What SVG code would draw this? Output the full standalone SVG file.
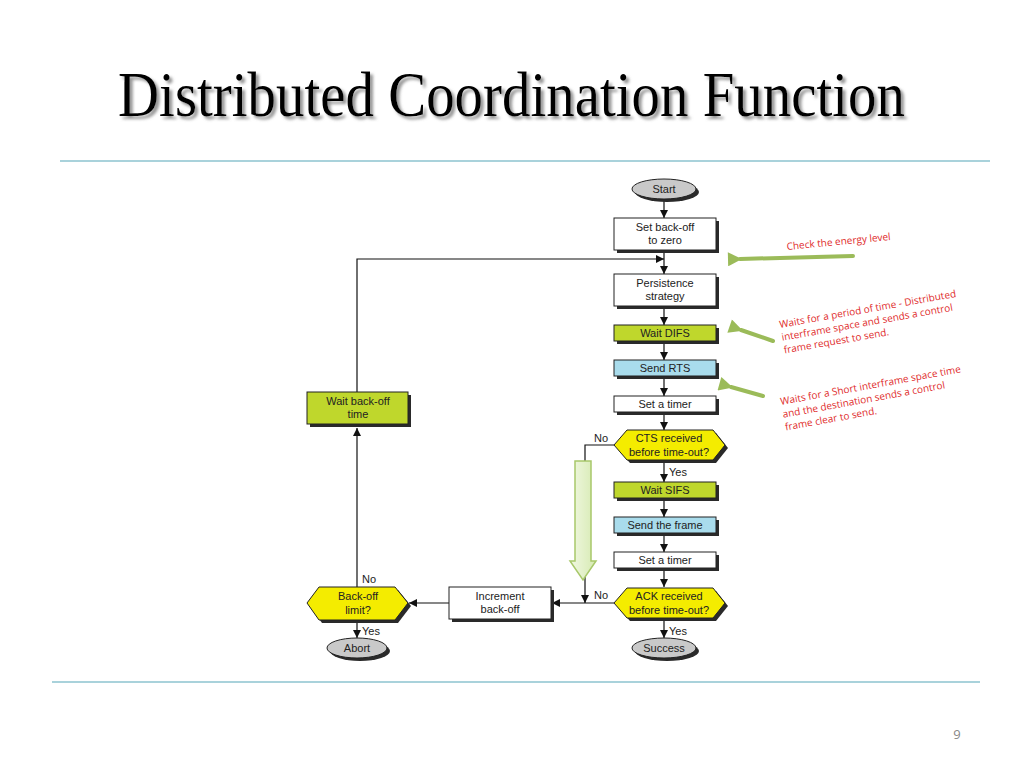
<svg xmlns="http://www.w3.org/2000/svg" width="1024" height="768" viewBox="0 0 1024 768">
<style>
.box{stroke:#222;stroke-width:1}
.sh{fill:#2a2a2a}
.w{fill:#fff}
.g{fill:#bfd72c}
.b{fill:#a9dcec}
.y{fill:#f4ec00}
.e{fill:#c9c9c9;stroke:#222;stroke-width:1}
.t{font-family:"Liberation Sans",Arial,sans-serif;font-size:11px;fill:#222;text-anchor:middle}
.lb{font-family:"Liberation Sans",Arial,sans-serif;font-size:11px;fill:#222}
.ln{stroke:#111;stroke-width:1.2;fill:none}
.red{font-family:"Open Sans","Liberation Sans",sans-serif;font-size:10px;fill:#e02a2a}
.ga{stroke:#9bbb59;stroke-width:4;fill:none;stroke-linecap:round}
.rule{stroke:#8cc3cf;stroke-width:1.5}
</style>
<defs>
<marker id="ah" markerUnits="userSpaceOnUse" markerWidth="9" markerHeight="8" refX="8" refY="4" orient="auto">
<path d="M0,0 L8,4 L0,8 z" fill="#111"/>
</marker>
<marker id="gah" markerUnits="userSpaceOnUse" markerWidth="16" markerHeight="14" refX="2" refY="7" orient="auto">
<path d="M14,0 L0,7 L14,14 z" fill="#9bbb59"/>
</marker>
<filter id="ts" x="-5%" y="-20%" width="110%" height="150%">
<feGaussianBlur in="SourceAlpha" stdDeviation="1.4" result="bl"/>
<feOffset in="bl" dx="3" dy="3" result="of"/>
<feFlood flood-color="#8a8a8a" flood-opacity="0.9"/>
<feComposite in2="of" operator="in" result="sh"/>
<feMerge><feMergeNode in="sh"/><feMergeNode in="SourceGraphic"/></feMerge>
</filter>
<linearGradient id="gg" x1="0" y1="0" x2="1" y2="0">
<stop offset="0" stop-color="#f1f8e2"/>
<stop offset="1" stop-color="#d6eab2"/>
</linearGradient>
</defs>
<rect width="1024" height="768" fill="#fff"/>
<g id="title">
<text x="118" y="116" font-family="Liberation Serif,'Times New Roman',serif" font-size="64" fill="#000" filter="url(#ts)" textLength="787" lengthAdjust="spacingAndGlyphs">Distributed Coordination Function</text>
</g>
<line class="rule" x1="60" y1="161" x2="990" y2="161"/>
<line class="rule" x1="52" y1="682" x2="980" y2="682"/>
<text x="957" y="739" font-family="Open Sans,Liberation Sans,sans-serif" font-size="13" fill="#888" text-anchor="middle">9</text>

<g id="connectors">
<line class="ln" x1="664" y1="199" x2="664" y2="218" marker-end="url(#ah)"/>
<line class="ln" x1="664" y1="250" x2="664" y2="274" marker-end="url(#ah)"/>
<polyline class="ln" points="357,392 357,259 664,259" marker-end="url(#ah)"/>
<line class="ln" x1="664" y1="306" x2="664" y2="325" marker-end="url(#ah)"/>
<line class="ln" x1="664" y1="341" x2="664" y2="360" marker-end="url(#ah)"/>
<line class="ln" x1="664" y1="376" x2="664" y2="396" marker-end="url(#ah)"/>
<line class="ln" x1="664" y1="412" x2="664" y2="430" marker-end="url(#ah)"/>
<line class="ln" x1="664" y1="460" x2="664" y2="482" marker-end="url(#ah)"/>
<line class="ln" x1="664" y1="498" x2="664" y2="517" marker-end="url(#ah)"/>
<line class="ln" x1="664" y1="533" x2="664" y2="552" marker-end="url(#ah)"/>
<line class="ln" x1="664" y1="568" x2="664" y2="587" marker-end="url(#ah)"/>
<line class="ln" x1="664" y1="618" x2="664" y2="638" marker-end="url(#ah)"/>
<polyline class="ln" points="614,445 585,445 585,603" marker-end="url(#ah)"/>
<line class="ln" x1="614" y1="603" x2="552" y2="603" marker-end="url(#ah)"/>
<line class="ln" x1="449" y1="603" x2="409" y2="603" marker-end="url(#ah)"/>
<line class="ln" x1="357" y1="587" x2="357" y2="428" marker-end="url(#ah)"/>
<line class="ln" x1="357" y1="620" x2="357" y2="638" marker-end="url(#ah)"/>
<text class="lb" x="594" y="442">No</text>
<text class="lb" x="669" y="476">Yes</text>
<text class="lb" x="594" y="599">No</text>
<text class="lb" x="669" y="635">Yes</text>
<text class="lb" x="362" y="583">No</text>
<text class="lb" x="362" y="635">Yes</text>
</g>

<g id="start">
<ellipse cx="667" cy="192" rx="32" ry="10" class="sh"/>
<ellipse cx="664" cy="189" rx="32" ry="10" class="e"/>
<text class="t" x="664" y="193">Start</text>
</g>
<g id="setbackoff">
<rect x="617" y="221" width="102" height="32" class="sh"/>
<rect x="614" y="218" width="102" height="32" class="box w"/>
<text class="t" x="665" y="231">Set back-off</text>
<text class="t" x="665" y="244">to zero</text>
</g>
<g id="persistence">
<rect x="617" y="277" width="102" height="32" class="sh"/>
<rect x="614" y="274" width="102" height="32" class="box w"/>
<text class="t" x="665" y="287">Persistence</text>
<text class="t" x="665" y="300">strategy</text>
</g>
<g id="waitdifs">
<rect x="617" y="328" width="102" height="16" class="sh"/>
<rect x="614" y="325" width="102" height="16" class="box g"/>
<text class="t" x="665" y="337">Wait DIFS</text>
</g>
<g id="sendrts">
<rect x="617" y="363" width="102" height="16" class="sh"/>
<rect x="614" y="360" width="102" height="16" class="box b"/>
<text class="t" x="665" y="372">Send RTS</text>
</g>
<g id="settimer1">
<rect x="617" y="399" width="102" height="16" class="sh"/>
<rect x="614" y="396" width="102" height="16" class="box w"/>
<text class="t" x="665" y="408">Set a timer</text>
</g>
<g id="cts">
<polygon points="617,448 630,433 716,433 728,448 716,463 630,463" class="sh"/>
<polygon points="614,445 627,430 713,430 725,445 713,460 627,460" class="box y"/>
<text class="t" x="669" y="442">CTS received</text>
<text class="t" x="669" y="456">before time-out?</text>
</g>
<g id="waitsifs">
<rect x="617" y="485" width="102" height="16" class="sh"/>
<rect x="614" y="482" width="102" height="16" class="box g"/>
<text class="t" x="665" y="494">Wait SIFS</text>
</g>
<g id="sendframe">
<rect x="617" y="520" width="102" height="16" class="sh"/>
<rect x="614" y="517" width="102" height="16" class="box b"/>
<text class="t" x="665" y="529">Send the frame</text>
</g>
<g id="settimer2">
<rect x="617" y="555" width="102" height="16" class="sh"/>
<rect x="614" y="552" width="102" height="16" class="box w"/>
<text class="t" x="665" y="564">Set a timer</text>
</g>
<g id="ack">
<polygon points="617,606 630,591 716,591 728,606 716,621 630,621" class="sh"/>
<polygon points="614,603 627,588 713,588 725,603 713,618 627,618" class="box y"/>
<text class="t" x="669" y="600">ACK received</text>
<text class="t" x="669" y="614">before time-out?</text>
</g>
<g id="success">
<ellipse cx="667" cy="651" rx="32" ry="10" class="sh"/>
<ellipse cx="664" cy="648" rx="32" ry="10" class="e"/>
<text class="t" x="664" y="652">Success</text>
</g>
<g id="increment">
<rect x="452" y="590" width="102" height="32" class="sh"/>
<rect x="449" y="587" width="102" height="32" class="box w"/>
<text class="t" x="500" y="600">Increment</text>
<text class="t" x="500" y="613">back-off</text>
</g>
<g id="backofflimit">
<polygon points="310,606 322,590 398,590 411,606 398,623 322,623" class="sh"/>
<polygon points="307,603 319,587 395,587 408,603 395,620 319,620" class="box y"/>
<text class="t" x="358" y="600">Back-off</text>
<text class="t" x="358" y="614">limit?</text>
</g>
<g id="abort">
<ellipse cx="360" cy="651" rx="30" ry="10" class="sh"/>
<ellipse cx="357" cy="648" rx="30" ry="10" class="e"/>
<text class="t" x="357" y="652">Abort</text>
</g>
<g id="waitbackoff">
<rect x="310" y="395" width="101" height="32" class="sh"/>
<rect x="307" y="392" width="101" height="32" class="box g"/>
<text class="t" x="358" y="405">Wait back-off</text>
<text class="t" x="358" y="418">time</text>
</g>

<g id="annotations">
<line class="ga" x1="853" y1="256" x2="740" y2="259" marker-end="url(#gah)"/>
<line class="ga" x1="773" y1="341" x2="741" y2="330" marker-end="url(#gah)"/>
<line class="ga" x1="763" y1="396" x2="731" y2="387" marker-end="url(#gah)"/>
<path d="M575,461 L591,461 L591,561 L596,561 L583,580 L570,561 L575,561 Z" fill="url(#gg)" stroke="#a8c86a" stroke-width="1.5"/>
<text class="red" transform="translate(787,250) rotate(-5.5)">Check the energy level</text>
<g transform="translate(780,328) rotate(-10)">
<text class="red" x="0" y="0">Waits for a period of time - Distributed</text>
<text class="red" x="0" y="13">interframe space and sends a control</text>
<text class="red" x="0" y="26">frame request to send.</text>
</g>
<g transform="translate(781,405) rotate(-10.3)">
<text class="red" x="0" y="0">Waits for a Short interframe space time</text>
<text class="red" x="0" y="13">and the destination sends a control</text>
<text class="red" x="0" y="26">frame clear to send.</text>
</g>
</g>
</svg>
